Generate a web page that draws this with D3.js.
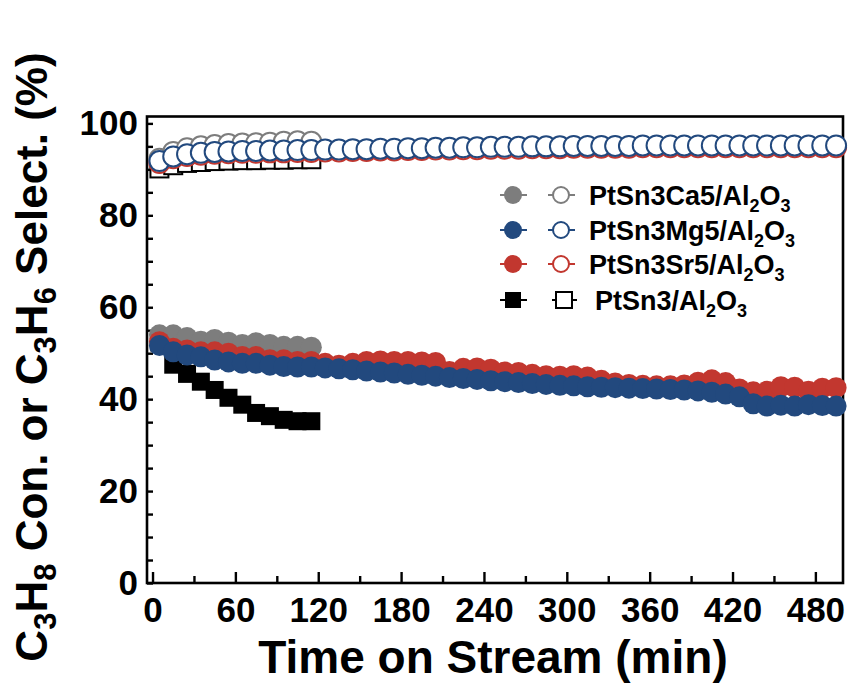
<!DOCTYPE html>
<html>
<head>
<meta charset="utf-8">
<script src="https://cdn.jsdelivr.net/npm/d3@7"></script>
<style>
body { margin: 0; background: #fff; }
svg text { font-family: "Liberation Sans", Arial, Helvetica, sans-serif; font-weight: bold; fill: #000; }
</style>
</head>
<body>
<svg id="chart" width="854" height="690"></svg>
<script>
// time points (min)
var timeLong = [5, 15, 25, 35, 45, 55, 65, 75, 85, 95, 105, 115, 125, 135, 145, 155, 165, 175, 185, 195,
    205, 215, 225, 235, 245, 255, 265, 275, 285, 295, 305, 315, 325, 335, 345, 355, 365, 375, 385, 395,
    405, 415, 425, 435, 445, 455, 465, 475, 485, 495];
var timeShort = [5, 15, 25, 35, 45, 55, 65, 75, 85, 95, 105, 115];

// PtSn3Ca5/Al2O3
var ca5Conv = [54.0, 54.0, 53.4, 52.6, 53.0, 52.4, 51.9, 52.3, 51.9, 51.5, 51.5, 51.3];
var ca5Sel = [92.3, 93.8, 94.6, 95.0, 95.3, 95.5, 95.6, 95.7, 95.8, 96.0, 96.1, 96.0];

// PtSn3Mg5/Al2O3
var mg5Conv = [51.7, 50.3, 49.6, 49.2, 48.5, 48.1, 47.8, 47.8, 47.4, 47.1, 47.0, 47.0, 46.8, 46.6, 46.4, 46.1, 45.9, 45.7, 45.4, 45.2,
    45.0, 44.7, 44.5, 44.3, 44.0, 43.8, 43.6, 43.4, 43.2, 43.0, 42.9, 42.7, 42.6, 42.5, 42.4, 42.3, 42.2, 42.1, 42.0, 41.8,
    41.5, 41.1, 40.5, 39.0, 38.5, 38.7, 38.5, 38.8, 38.6, 38.5];
var mg5Sel = [91.8, 92.8, 93.3, 93.6, 93.8, 93.9, 94.0, 94.0, 94.1, 94.1, 94.2, 94.2, 94.3, 94.3, 94.4, 94.4, 94.5, 94.5, 94.6, 94.6,
    94.7, 94.7, 94.8, 94.8, 94.9, 94.9, 94.9, 95.0, 95.0, 95.0, 95.1, 95.1, 95.1, 95.1, 95.1, 95.2, 95.2, 95.2, 95.2, 95.2,
    95.2, 95.2, 95.2, 95.2, 95.2, 95.2, 95.2, 95.2, 95.2, 95.2];

// PtSn3Sr5/Al2O3
var sr5Conv = [52.5, 51.1, 50.7, 50.3, 50.3, 50.0, 49.3, 49.3, 48.6, 48.6, 48.2, 48.2, 47.8, 47.4, 47.8, 48.2, 48.3, 48.2, 48.2, 48.1,
    48.0, 46.0, 46.7, 46.8, 46.5, 45.9, 45.8, 45.4, 45.1, 45.0, 45.1, 44.8, 44.1, 43.5, 43.2, 43.0, 42.9, 42.9, 43.1, 43.7,
    44.2, 43.6, 42.2, 41.6, 41.7, 42.7, 42.6, 41.7, 42.4, 42.5];
var sr5Sel = [91.4, 92.4, 92.9, 93.2, 93.4, 93.5, 93.6, 93.6, 93.7, 93.7, 93.8, 93.8, 93.9, 93.9, 94.0, 94.0, 94.1, 94.1, 94.2, 94.2,
    94.3, 94.3, 94.4, 94.4, 94.5, 94.5, 94.5, 94.6, 94.6, 94.6, 94.7, 94.7, 94.7, 94.7, 94.7, 94.8, 94.8, 94.8, 94.8, 94.8,
    94.8, 94.8, 94.8, 94.8, 94.8, 94.8, 94.8, 94.8, 94.8, 94.8];

// PtSn3/Al2O3
var ptsn3Conv = [52.3, 47.5, 45.5, 43.8, 42.0, 40.3, 38.8, 37.0, 36.3, 35.5, 35.2, 35.2];
var ptsn3Sel = [90.2, 90.9, 91.4, 91.6, 91.8, 91.9, 92.0, 92.0, 92.1, 92.1, 92.2, 92.2];

var xTicks = [0, 60, 120, 180, 240, 300, 360, 420, 480];
var xMinorTicks = [30, 90, 150, 210, 270, 330, 390, 450];
var yTicks = [0, 20, 40, 60, 80, 100];
var yMinorTicks = [5, 10, 15, 25, 30, 35, 45, 50, 55, 65, 70, 75, 85, 90, 95];

var colors = { ca: "#7d7d7d", mg: "#22497e", sr: "#c2372f", pt: "#000000" };

var svg = d3.select("#chart");

var x = d3.scaleLinear().domain([-4, 500]).range([147, 843]);
var y = d3.scaleLinear().domain([0, 101.5]).range([583, 116.5]);

// frame
svg.append("rect")
    .attr("x", x(-4))
    .attr("y", y(101.5))
    .attr("width", x(500) - x(-4))
    .attr("height", y(0) - y(101.5))
    .attr("fill", "none")
    .attr("stroke", "#000")
    .attr("stroke-width", 2.6);

// X axis (ticks pointing inward)
var xMinorAxis = svg.append("g")
    .attr("transform", "translate(0," + y(0) + ")")
    .call(d3.axisBottom(x).tickValues(xMinorTicks).tickSize(-7).tickFormat(""));
var xAxis = svg.append("g")
    .attr("transform", "translate(0," + y(0) + ")")
    .call(d3.axisBottom(x).tickValues(xTicks).tickSize(-11).tickPadding(14));

// Y axis
var yMinorAxis = svg.append("g")
    .attr("transform", "translate(" + x(-4) + ",0)")
    .call(d3.axisLeft(y).tickValues(yMinorTicks).tickSize(-6).tickFormat(""));
var yAxis = svg.append("g")
    .attr("transform", "translate(" + x(-4) + ",0)")
    .call(d3.axisLeft(y).tickValues(yTicks).tickSize(-6).tickPadding(9));

[xMinorAxis, xAxis, yMinorAxis, yAxis].forEach(function(g) {
    g.select(".domain").remove();
    g.selectAll(".tick line").attr("stroke", "#000").attr("stroke-width", 2.4);
    g.selectAll(".tick text")
        .style("font-size", "35px")
        .style("font-family", "'Liberation Sans', Arial, sans-serif")
        .style("font-weight", "bold")
        .attr("fill", "#000");
});

// helper to build point list
function pts(times, vals) {
    return times.map(function(t, i) {
        return { t: t, v: vals[i] };
    });
}

function drawSquares(data, filled) {
    var s = 18;
    svg.append("g").selectAll("rect")
        .data(data)
        .enter()
        .append("rect")
        .attr("x", function(d) { return x(d.t) - s / 2; })
        .attr("y", function(d) { return y(d.v) - s / 2; })
        .attr("width", s)
        .attr("height", s)
        .attr("fill", filled ? "#000" : "#fff")
        .attr("stroke", "#000")
        .attr("stroke-width", filled ? 0 : 2);
}

function drawCircles(data, color, filled) {
    svg.append("g").selectAll("circle")
        .data(data)
        .enter()
        .append("circle")
        .attr("cx", function(d) { return x(d.t); })
        .attr("cy", function(d) { return y(d.v); })
        .attr("r", filled ? 10.5 : 10)
        .attr("fill", filled ? color : "#fff")
        .attr("stroke", color)
        .attr("stroke-width", filled ? 0 : 2);
}

// draw order: PtSn3, Ca5, Sr5, Mg5
drawSquares(pts(timeShort, ptsn3Sel), false);
drawSquares(pts(timeShort, ptsn3Conv), true);
drawCircles(pts(timeShort, ca5Sel), colors.ca, false);
drawCircles(pts(timeShort, ca5Conv), colors.ca, true);
drawCircles(pts(timeLong, sr5Sel), colors.sr, false);
drawCircles(pts(timeLong, sr5Conv), colors.sr, true);
drawCircles(pts(timeLong, mg5Sel), colors.mg, false);
drawCircles(pts(timeLong, mg5Conv), colors.mg, true);

// legend
var legendItems = [
    { name: "PtSn3Ca5/Al", color: colors.ca, shape: "circle", y: 195, tx: 589 },
    { name: "PtSn3Mg5/Al", color: colors.mg, shape: "circle", y: 230, tx: 589 },
    { name: "PtSn3Sr5/Al", color: colors.sr, shape: "circle", y: 264, tx: 589 },
    { name: "PtSn3/Al", color: colors.pt, shape: "square", y: 300, tx: 595 }
];

var legend = svg.selectAll(".legend")
    .data(legendItems)
    .enter()
    .append("g")
    .attr("class", "legend")
    .attr("transform", function(d) { return "translate(0," + d.y + ")"; });

legend.append("line")
    .attr("x1", 500).attr("x2", 527).attr("y1", 0).attr("y2", 0)
    .attr("stroke", function(d) { return d.color; })
    .attr("stroke-width", 2);
legend.append("line")
    .attr("x1", function(d) { return d.shape == "square" ? 552 : 548; })
    .attr("x2", function(d) { return d.shape == "square" ? 577 : 575; })
    .attr("y1", 0).attr("y2", 0)
    .attr("stroke", function(d) { return d.color; })
    .attr("stroke-width", 2);

legend.each(function(d) {
    var g = d3.select(this);
    if (d.shape == "circle") {
        g.append("circle").attr("cx", 513).attr("cy", 0).attr("r", 9).attr("fill", d.color);
        g.append("circle").attr("cx", 561).attr("cy", 0).attr("r", 8)
            .attr("fill", "#fff").attr("stroke", d.color).attr("stroke-width", 2);
    } else {
        g.append("rect").attr("x", 505).attr("y", -8).attr("width", 16).attr("height", 16).attr("fill", "#000");
        g.append("rect").attr("x", 556).attr("y", -8).attr("width", 16).attr("height", 16)
            .attr("fill", "#fff").attr("stroke", "#000").attr("stroke-width", 2);
    }
    var t = g.append("text")
        .attr("x", d.tx)
        .attr("y", 10)
        .style("font-size", "27px");
    t.append("tspan").text(d.name);
    t.append("tspan").attr("dy", 7).style("font-size", "18px").text("2");
    t.append("tspan").attr("dy", -7).text("O");
    t.append("tspan").attr("dy", 7).style("font-size", "18px").text("3");
});

// axis titles
svg.append("text")
    .attr("x", 493)
    .attr("y", 673)
    .attr("text-anchor", "middle")
    .style("font-size", "46px")
    .text("Time on Stream (min)");

var yTitle = svg.append("text")
    .attr("transform", "translate(47,357) rotate(-90)")
    .attr("text-anchor", "middle")
    .style("font-size", "44px");
var sub = function(txt) {
    yTitle.append("tspan").attr("dy", 9).style("font-size", "31px").text(txt);
};
var norm = function(txt) {
    yTitle.append("tspan").attr("dy", -9).text(txt);
};
yTitle.append("tspan").text("C");
sub("3");
norm("H");
sub("8");
norm(" Con. or C");
sub("3");
norm("H");
sub("6");
norm(" Select. (%)");
</script>
</body>
</html>
